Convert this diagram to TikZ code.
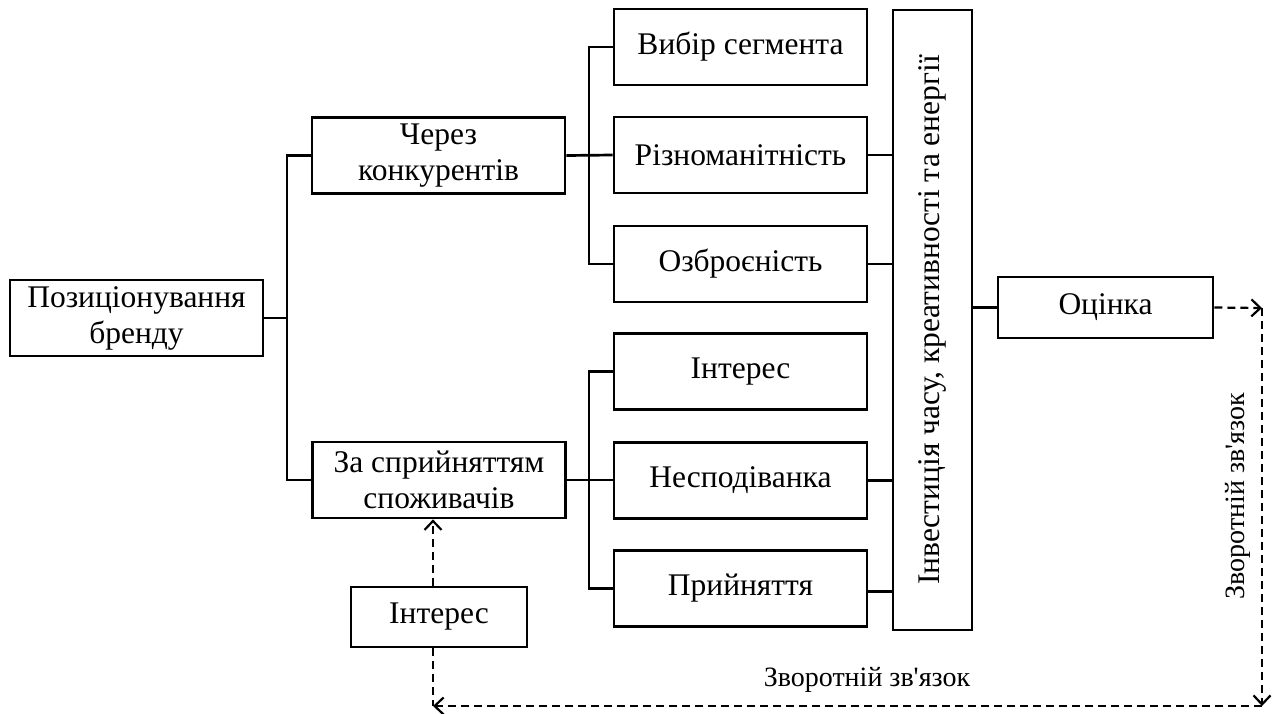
\documentclass[tikz,border=0pt]{standalone}
\usepackage{fontspec}
\setmainfont{Liberation Serif}
\usetikzlibrary{arrows.meta}
\begin{document}
\begin{tikzpicture}[x=1pt,y=-1pt,
  box/.style={draw, line width=2.7pt, inner sep=0pt, align=center,
    font=\fontsize{31.5}{36}\selectfont},
  wide/.style={box, minimum width=253pt, minimum height=76pt},
  link/.style={line width=2.7pt},
  fb/.style={line width=2.2pt, dash pattern=on 8pt off 5pt},
  fbarrow/.style={fb, -{Straight Barb[length=9pt,width=17pt]}},
  small/.style={font=\fontsize{28}{31}\selectfont, inner sep=0pt}]
\useasboundingbox (0,0) rectangle (1277,713);

% root and the two approaches
\node[wide] (pos) at (136.5,318) {Позиціонування\\бренду};
\node[wide] (cherez) at (438.5,155.5) {Через\\конкурентів};
\node[wide] (za) at (439,480) {За сприйняттям\\споживачів};

% criteria
\node[wide] (vybir) at (740.5,47) {Вибір сегмента};
\node[wide] (rizn) at (740.5,155) {Різноманітність};
\node[wide] (ozbr) at (740.5,264) {Озброєність};
\node[wide] (inter) at (740.5,371.5) {Інтерес};
\node[wide] (nesp) at (740.5,480.5) {Несподіванка};
\node[wide] (pryin) at (740.5,588.5) {Прийняття};

% investment column
\node[box, minimum width=79pt, minimum height=620pt] (tall) at (932.5,320) {};
\node[rotate=90, font=\fontsize{31.5}{36}\selectfont] (talltext) at (tall.center)
  {Інвестиція часу, креативності та енергії};

\node[box, minimum width=215pt, minimum height=61pt] (ots) at (1105.5,307.5) {Оцінка};
\node[box, minimum width=176pt, minimum height=60pt] (inter2) at (439,617) {Інтерес};

% junction points
\coordinate (j1) at (287,0);
\coordinate (j2) at (589,0);
\coordinate (fr) at (1262,308);
\coordinate (fbot) at (1262,706);
\coordinate (fl) at (433,706);

% tree connectors
\draw[link] (pos.east) -- (pos.east -| j1);
\draw[link] (cherez.west) -| (j1 |- za.west) -- (za.west);
\draw[link] (vybir.west) -| (j2 |- ozbr.west) -- (ozbr.west);
\draw[link] (cherez.east) -- (rizn.west);
\draw[link] (inter.west) -| (j2 |- pryin.west) -- (pryin.west);
\draw[link] (za.east) -- (za.east -| nesp.west);

% into the investment column
\draw[link] (rizn.east) -- (rizn.east -| tall.west);
\draw[link] (ozbr.east) -- (ozbr.east -| tall.west);
\draw[link] (nesp.east) -- (nesp.east -| tall.west);
\draw[link] ([yshift=-3pt]pryin.east) -- ([yshift=-3pt]pryin.east -| tall.west);
\draw[link] (tall.east |- ots.west) -- (ots.west);

% feedback loop
\draw[fbarrow] (ots.east) -- (fr);
\draw[fbarrow] (fr) -- (fbot);
\draw[fbarrow] (fbot) -- (fl);
\draw[fb] (inter2.south -| fl) -- (fl);
\draw[fbarrow] (inter2.north -| fl) -- (za.south -| fl);

\node[small, rotate=90] (vlab) at (1238,496) {Зворотній зв\textquotesingle язок};
\node[small] (hlab) at (867,680) {Зворотній зв\textquotesingle язок};
\end{tikzpicture}
\end{document}
